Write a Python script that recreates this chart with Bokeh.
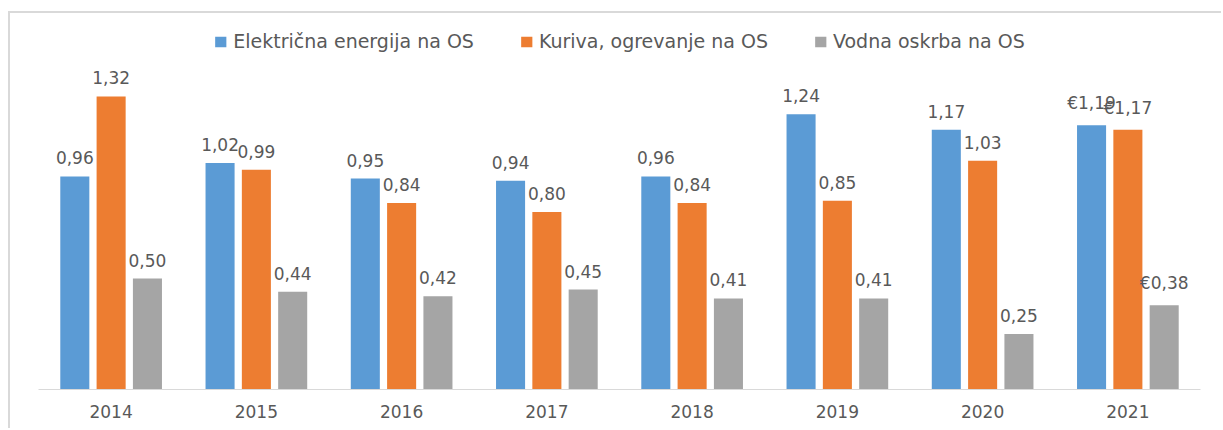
from bokeh.plotting import figure
from bokeh.models import ColumnDataSource, Range1d, FactorRange
from bokeh.transform import dodge
from bokeh.core.properties import value
from bokeh.embed import file_html
from bokeh.resources import INLINE

years = ["2014", "2015", "2016", "2017", "2018", "2019", "2020", "2021"]
elektrika = [0.96, 1.02, 0.95, 0.94, 0.96, 1.24, 1.17, 1.19]
kuriva = [1.32, 0.99, 0.84, 0.80, 0.84, 0.85, 1.03, 1.17]
voda = [0.50, 0.44, 0.42, 0.45, 0.41, 0.41, 0.25, 0.38]
euro_years = ["2021"]

series_names = ["Električna energija na OS", "Kuriva, ogrevanje na OS", "Vodna oskrba na OS"]
colors = ["#5B9BD5", "#ED7D31", "#A5A5A5"]


def fmt(v, y):
    s = f"{v:.2f}".replace(".", ",")
    return ("€" + s) if y in euro_years else s


src = ColumnDataSource(dict(
    year=years,
    e=elektrika, k=kuriva, v=voda,
    el=[fmt(a, y) for a, y in zip(elektrika, years)],
    kl=[fmt(a, y) for a, y in zip(kuriva, years)],
    vl=[fmt(a, y) for a, y in zip(voda, years)],
))

p = figure(x_range=FactorRange(*years, range_padding=0), y_range=Range1d(0, 1.6937),
           width=1213, height=417, output_backend="svg", toolbar_location=None,
           min_border_left=28, min_border_right=23, min_border_top=0, min_border_bottom=41)
p.styles = {"border-top": "2px solid #d9d9d9", "border-left": "2px solid #d9d9d9",
            "margin-top": "11px", "margin-left": "8px"}

offsets = [-0.25, 0.0, 0.25]
cols = ["e", "k", "v"]
lcols = ["el", "kl", "vl"]
for off, c, lc, col, name in zip(offsets, cols, lcols, colors, series_names):
    p.vbar(x=dodge("year", off, range=p.x_range), top=c, width=0.2, source=src,
           fill_color=col, line_color=None, legend_label=name)
    p.text(x=dodge("year", off, range=p.x_range), y=c, text=lc, source=src,
           text_align="center", text_baseline="bottom", y_offset=-12,
           text_font=value("DejaVu Sans"), text_font_size="17px", text_color="#595959")

p.outline_line_color = None
p.xgrid.grid_line_color = None
p.ygrid.grid_line_color = None
p.yaxis.visible = False
p.xaxis.axis_line_color = "#D9D9D9"
p.xaxis.axis_line_width = 1
p.xaxis.major_tick_line_color = None
p.xaxis.minor_tick_line_color = None
p.xaxis.major_tick_out = 0
p.xaxis.major_tick_in = 0
p.xaxis.major_label_standoff = 15
p.xaxis.major_label_text_font = "DejaVu Sans"
p.xaxis.major_label_text_font_size = "17px"
p.xaxis.major_label_text_color = "#595959"

lg = p.legend[0]
lg.location = "top_center"
lg.orientation = "horizontal"
lg.border_line_color = None
lg.background_fill_alpha = 0
lg.label_text_font = "DejaVu Sans"
lg.label_text_font_size = "19px"
lg.label_text_color = "#595959"
lg.glyph_width = 14
lg.glyph_height = 13
lg.label_standoff = 6
lg.spacing = 45
lg.margin = 17
lg.padding = 0

open("out.html", "w").write(file_html(p, INLINE))
